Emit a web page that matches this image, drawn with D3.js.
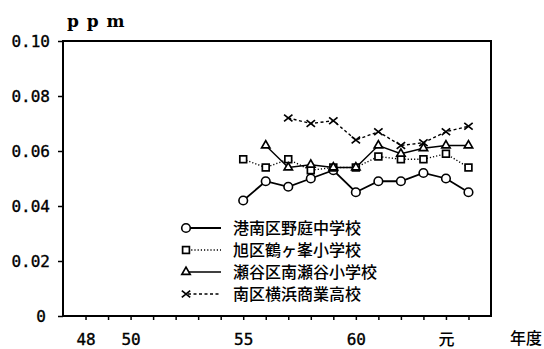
<!DOCTYPE html>
<html>
<head>
<meta charset="utf-8">
<script src="https://cdn.jsdelivr.net/npm/d3@7"></script>
<style>
  body { margin: 0; background: #fff; }
  svg { display: block; }
  .num { font-family: "DejaVu Sans Mono", monospace; font-size: 16px; fill: #000; stroke: #000; stroke-width: 0.35px; }
  .jp { font-family: "Noto Sans CJK JP", sans-serif; font-size: 16px; font-weight: 500; fill: #000; }
</style>
</head>
<body>
<svg width="544" height="349"></svg>
<script>
// survey years (Showa; 64 = Heisei 元, 65 = Heisei 2)
const years = [55, 56, 57, 58, 59, 60, 61, 62, 63, 64, 65];
const konan = [0.042, 0.049, 0.047, 0.050, 0.053, 0.045, 0.049, 0.049, 0.052, 0.050, 0.045];
const asahi = [0.057, 0.054, 0.057, 0.053, 0.054, 0.054, 0.058, 0.057, 0.057, 0.059, 0.054];
const seya = [null, 0.062, 0.054, 0.055, 0.054, 0.054, 0.062, 0.059, 0.061, 0.062, 0.062];
const minami = [null, null, 0.072, 0.070, 0.071, 0.064, 0.067, 0.062, 0.063, 0.067, 0.069];
const seriesNames = ["港南区野庭中学校", "旭区鶴ヶ峯小学校", "瀬谷区南瀬谷小学校", "南区横浜商業高校"];
const xTickYears = [48, 50, 55, 60, 64];
const xTickLabels = ["48", "50", "55", "60", "元"];
const yTicks = [0, 0.02, 0.04, 0.06, 0.08, 0.10];

(function () {
  "use strict";
  const svg = d3.select("svg");
  const left = 63, right = 491, top = 41, bottom = 316;

  const x = d3.scaleLinear().domain([47, 66]).range([left, right]);
  const y = d3.scaleLinear().domain([0, 0.10]).range([bottom, top]);

  // frame
  svg.append("rect")
    .attr("x", left).attr("y", top)
    .attr("width", right - left).attr("height", bottom - top)
    .attr("fill", "none").attr("stroke", "#000").attr("stroke-width", 2);

  // y axis
  const yAxis = svg.append("g")
    .attr("transform", `translate(${left},0)`)
    .call(d3.axisLeft(y).tickValues(yTicks).tickSize(5).tickPadding(8)
      .tickFormat(d => d === 0 ? "0" : d3.format(".2f")(d)));
  yAxis.select(".domain").remove();
  yAxis.selectAll("line").attr("stroke", "#000").attr("stroke-width", 1.5);
  yAxis.selectAll("text").attr("class", "num").attr("font-family", null).attr("font-size", null)
    .attr("dy", "0.36em")
    .attr("dx", d => d === 0 ? -4 : 0);

  // x axis: a tick every year, labels on a few
  const xAxis = svg.append("g")
    .attr("transform", `translate(0,${bottom})`)
    .call(d3.axisBottom(x).tickValues(d3.range(48, 66)).tickSize(4).tickPadding(14)
      .tickFormat(d => {
        const i = xTickYears.indexOf(d);
        return i < 0 ? "" : xTickLabels[i];
      }));
  xAxis.select(".domain").remove();
  xAxis.selectAll("line").attr("stroke", "#000").attr("stroke-width", 1.5);
  xAxis.selectAll("text").attr("font-family", null).attr("font-size", null)
    .attr("class", d => d === 64 ? "jp" : "num");

  svg.append("text").attr("class", "jp")
    .attr("x", 526).attr("y", 344).attr("text-anchor", "middle").text("年度");
  svg.append("text")
    .attr("x", 67).attr("y", 27)
    .attr("font-family", "DejaVu Serif").attr("font-size", 17).attr("font-weight", "bold")
    .attr("letter-spacing", 1).text("p p m");

  const series = [
    { values: konan, marker: "circle", dash: null },
    { values: asahi, marker: "square", dash: "1.2,2" },
    { values: seya, marker: "triangle", dash: null },
    { values: minami, marker: "cross", dash: "3,2.5" }
  ];

  function drawMarker(g, type, cx, cy) {
    if (type === "circle") {
      g.append("circle").attr("cx", cx).attr("cy", cy).attr("r", 4.3)
        .attr("fill", "#fff").attr("stroke", "#000").attr("stroke-width", 1.6);
    } else if (type === "square") {
      g.append("rect").attr("x", cx - 3.4).attr("y", cy - 3.4)
        .attr("width", 6.8).attr("height", 6.8)
        .attr("fill", "#fff").attr("stroke", "#000").attr("stroke-width", 1.7);
    } else if (type === "triangle") {
      const s = d3.symbol().type(d3.symbolTriangle).size(30);
      g.append("path").attr("d", s()).attr("transform", `translate(${cx},${cy})`)
        .attr("fill", "#fff").attr("stroke", "#000").attr("stroke-width", 1.7);
    } else {
      const r = 4.2;
      g.append("path")
        .attr("d", `M${cx - r},${cy - r * 0.8}L${cx + r},${cy + r * 0.8}M${cx - r},${cy + r * 0.8}L${cx + r},${cy - r * 0.8}`)
        .attr("stroke", "#000").attr("stroke-width", 1.7);
    }
  }

  const line = d3.line()
    .defined(d => d.v !== null)
    .x(d => x(d.yr)).y(d => y(d.v));

  series.forEach(s => {
    const pts = years.map((yr, i) => ({ yr: yr, v: s.values[i] }));
    svg.append("path").datum(pts).attr("d", line)
      .attr("fill", "none").attr("stroke", "#000")
      .attr("stroke-width", s.marker === "circle" ? 1.8 : 1.4)
      .attr("stroke-dasharray", s.dash);
  });
  series.forEach(s => {
    const g = svg.append("g");
    years.forEach((yr, i) => {
      if (s.values[i] !== null) drawMarker(g, s.marker, x(yr), y(s.values[i]));
    });
  });

  // legend
  const legend = svg.append("g");
  series.forEach((s, i) => {
    const ly = 228 + i * 22;
    legend.append("line").attr("x1", 188).attr("x2", 221).attr("y1", ly).attr("y2", ly)
      .attr("stroke", "#000").attr("stroke-width", s.marker === "circle" ? 1.8 : 1.4)
      .attr("stroke-dasharray", s.dash);
    drawMarker(legend, s.marker, 186, ly);
    legend.append("text").attr("class", "jp")
      .attr("x", 233).attr("y", ly).attr("dy", "0.36em").text(seriesNames[i]);
  });
})(d3);
</script>
</body>
</html>
